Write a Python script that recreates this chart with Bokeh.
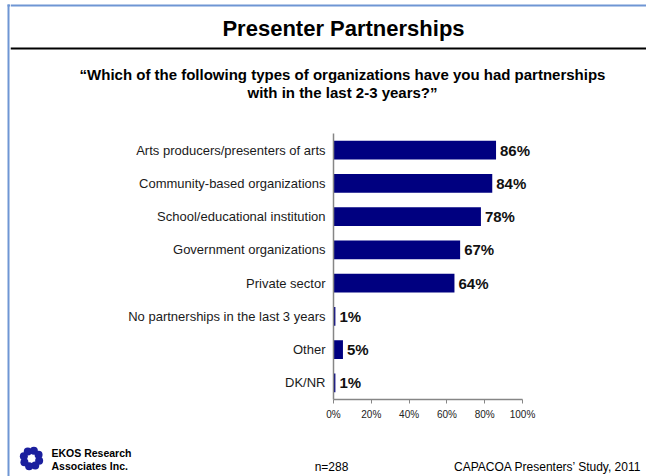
import math
from bokeh.plotting import figure
from bokeh.layouts import row, column
from bokeh.models import (ColumnDataSource, FactorRange, Range1d, LabelSet, Label,
                          FixedTicker, PrintfTickFormatter)
from bokeh.core.properties import value
from bokeh.embed import file_html
from bokeh.resources import INLINE

# ---- data ----
categories = ["Arts producers/presenters of arts", "Community-based organizations",
              "School/educational institution", "Government organizations", "Private sector",
              "No partnerships in the last 3 years", "Other", "DK/NR"]
values = [86, 84, 78, 67, 64, 1, 5, 1]
x_ticks = [0, 20, 40, 60, 80, 100]

title_text = "Presenter Partnerships"
subtitle_lines = ["\u201cWhich of the following types of organizations have you had partnerships",
                  "with in the last 2-3 years?\u201d"]
footer_left = ["EKOS Research", "Associates Inc."]
footer_n = "n=288"
footer_right = "CAPACOA Presenters\u2019 Study, 2011"

FONT = "Liberation Sans"
BLUE = "#6F96D4"
BAR = "#000080"
PAGE_W, PAGE_H = 646, 476
STRIP_W = 10
HEAD_H, MAIN_H = 110, 320
FOOT_H = PAGE_H - HEAD_H - MAIN_H


def blank(width, height, x0, x1, y0, y1):
    f = figure(width=width, height=height, output_backend="svg", toolbar_location=None,
               x_range=Range1d(x0, x1), y_range=Range1d(y1, y0),
               x_axis_type=None, y_axis_type=None, min_border=0, frame_align=False)
    f.min_border_left = f.min_border_right = f.min_border_top = f.min_border_bottom = 0
    f.outline_line_color = None
    f.background_fill_color = "white"
    f.border_fill_color = "white"
    return f


def text(f, x, y, t, size, bold=False, align="left"):
    f.add_layout(Label(x=x, y=y, text=t, text_align=align, text_baseline="middle",
                       text_font=FONT, text_font_size=size,
                       text_font_style="bold" if bold else "normal", text_color="black"))


# ---- left strip with the blue border ----
strip = blank(STRIP_W, PAGE_H, 0, STRIP_W, 0, PAGE_H)
strip.quad(left=7, right=9, top=4, bottom=PAGE_H, fill_color=BLUE, line_color=None)
strip.quad(left=7, right=STRIP_W, top=4, bottom=6, fill_color=BLUE, line_color=None)

# ---- header ----
head = blank(PAGE_W - STRIP_W, HEAD_H, STRIP_W, PAGE_W, 0, HEAD_H)
head.quad(left=STRIP_W, right=PAGE_W, top=4, bottom=6, fill_color=BLUE, line_color=None)
head.quad(left=STRIP_W, right=PAGE_W, top=47, bottom=49, fill_color="black", line_color=None)
text(head, 343, 28, title_text, "22px", bold=True, align="center")
for i, line in enumerate(subtitle_lines):
    text(head, 342, 74 + 18 * i, line, "15px", bold=True, align="center")

# ---- main chart ----
FL, FR, FT, FB = 333, 620, 133, 399          # frame in page pixels
X0, X100 = 333, 522                          # page pixels of 0% and 100%
x_end = 100 * (FR - FL) / (X100 - X0)

src = ColumnDataSource(dict(cat=categories, val=values, lab=[f"{v}%" for v in values]))

p = figure(width=PAGE_W - STRIP_W, height=MAIN_H, output_backend="svg", toolbar_location=None,
           y_range=FactorRange(factors=categories[::-1]),
           x_range=Range1d(0, x_end), frame_align=False,
           min_border_left=FL - STRIP_W, min_border_right=PAGE_W - FR,
           min_border_top=FT - HEAD_H, min_border_bottom=HEAD_H + MAIN_H - FB)
p.outline_line_color = None
p.xgrid.visible = False
p.ygrid.visible = False
p.background_fill_color = "white"
p.border_fill_color = "white"

p.hbar(y="cat", left=0, right="val", height=0.57, source=src,
       fill_color=BAR, line_color=None)

p.add_layout(LabelSet(x="val", y="cat", text="lab", source=src, x_offset=4,
                      text_baseline="middle", text_font=value(FONT),
                      text_font_size="15px", text_font_style="bold",
                      text_color="#111111"))

ya = p.yaxis[0]
ya.axis_line_color = "#868686"
ya.axis_line_width = 1.5
ya.major_tick_line_color = None
ya.major_tick_in = 0
ya.major_tick_out = 0
ya.minor_tick_line_color = None
ya.major_label_standoff = 8
ya.major_label_text_font = FONT
ya.major_label_text_font_size = "13px"
ya.major_label_text_color = "#1a1a1a"

xa = p.xaxis[0]
xa.ticker = FixedTicker(ticks=x_ticks)
xa.formatter = PrintfTickFormatter(format="%d%%")
xa.bounds = (0, 100)
xa.axis_line_color = "#868686"
xa.axis_line_width = 1.5
xa.major_tick_line_color = "#868686"
xa.major_tick_in = 0
xa.major_tick_out = 4
xa.minor_tick_line_color = None
xa.major_label_standoff = 5
xa.major_label_text_font = FONT
xa.major_label_text_font_size = "10px"
xa.major_label_text_color = "#222222"

# ---- footer ----
y0f = HEAD_H + MAIN_H
foot = blank(PAGE_W - STRIP_W, FOOT_H, STRIP_W, PAGE_W, y0f, PAGE_H)
cx, cy = 31, 458
bx = [cx + 8 * math.cos(2 * math.pi * k / 8 + 0.3) for k in range(8)]
by = [cy + 8 * math.sin(2 * math.pi * k / 8 + 0.3) for k in range(8)]
foot.scatter(bx, by, size=8, marker="circle", fill_color="#1b1f9e", line_color=None)
for i, line in enumerate(footer_left):
    text(foot, 51, 452 + 13 * i, line, "10.5px", bold=True)
text(foot, 331, 466, footer_n, "12px", align="center")
text(foot, 641, 466, footer_right, "12px", align="right")

layout = row(strip, column(head, p, foot))
open("out.html", "w").write(file_html(layout, INLINE))
